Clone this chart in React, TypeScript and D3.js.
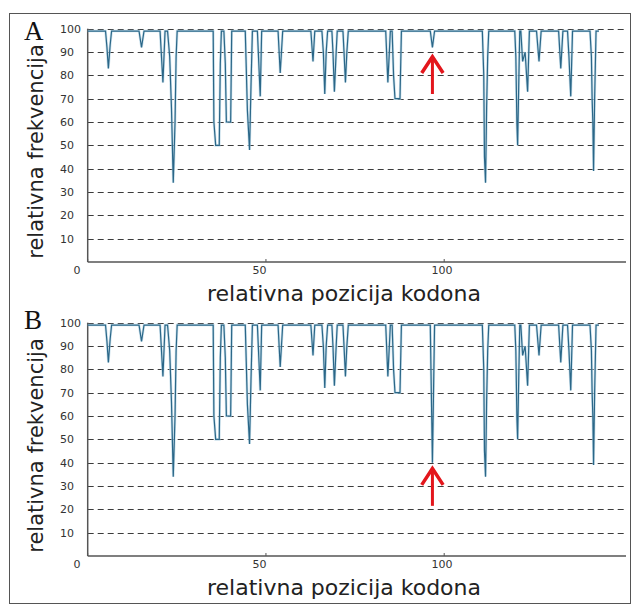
import React, { useEffect, useRef } from 'react';
import * as d3 from 'd3';

// relativna pozicija kodona (x) and relativna frekvencija (y)
const codonPos = [
  0,
  5.0, 5.4, 5.8, 6.3, 6.7,
  14.4, 15.1, 15.8,
  20.3, 21.1, 21.7,
  22.4, 23.0, 23.5, 24.0, 24.5, 24.8, 25.1,
  35.2, 35.4, 35.9, 36.9, 37.2, 37.5,
  38.2, 38.6, 38.9, 40.1, 40.4,
  44.2, 44.8, 45.4, 45.8, 46.2,
  47.6, 48.0, 48.4, 48.8,
  53.4, 54.0, 54.7,
  62.6, 63.2, 63.7,
  65.7, 66.1, 66.5, 66.9, 67.3,
  68.5, 68.8, 69.2, 69.7, 70.0,
  71.6, 71.9, 72.3, 72.7, 73.1,
  83.6, 84.2, 84.9,
  85.4, 85.8, 86.2, 87.6, 88.0,
  96.1, 96.7, 97.3,
  110.7, 111.1, 111.3, 111.6, 111.9, 112.2, 112.5,
  119.8, 120.1, 120.4, 120.6, 120.9, 121.2,
  121.5, 122.0, 122.7, 123.4, 123.9,
  125.9, 126.6, 127.2,
  132.1, 132.7, 133.3,
  134.6, 135.0, 135.5, 136.0,
  140.9, 141.3, 141.5, 141.7, 141.9, 142.2, 142.6,
  143.4,
];

const freqA = [
  99,
  99, 92, 83, 93, 99,
  99, 92, 99,
  99, 77, 99,
  99, 88, 66, 34, 60, 88, 99,
  99, 60, 50, 50, 85, 99,
  99, 85, 60, 60, 99,
  99, 65, 48, 75, 99,
  99, 85, 71, 99,
  99, 81, 99,
  99, 86, 99,
  99, 90, 72, 90, 99,
  99, 90, 73, 90, 99,
  99, 90, 77, 90, 99,
  99, 77, 99,
  99, 80, 70, 70, 99,
  99, 92, 99,
  99, 80, 45, 34, 66, 88, 99,
  99, 88, 59, 50, 75, 99,
  99, 86, 90, 73, 99,
  99, 86, 99,
  99, 83, 99,
  99, 88, 71, 99,
  99, 88, 70, 60, 39, 70, 99,
  99,
];

const freqB = [
  99,
  99, 92, 83, 93, 99,
  99, 92, 99,
  99, 77, 99,
  99, 88, 66, 34, 60, 88, 99,
  99, 60, 50, 50, 85, 99,
  99, 85, 60, 60, 99,
  99, 65, 48, 75, 99,
  99, 85, 71, 99,
  99, 81, 99,
  99, 86, 99,
  99, 90, 72, 90, 99,
  99, 90, 73, 90, 99,
  99, 90, 77, 90, 99,
  99, 77, 99,
  99, 80, 70, 70, 99,
  99, 40, 99,
  99, 80, 45, 34, 66, 88, 99,
  99, 88, 59, 50, 75, 99,
  99, 86, 90, 73, 99,
  99, 86, 99,
  99, 83, 99,
  99, 88, 71, 99,
  99, 88, 70, 60, 39, 70, 99,
  99,
];

const yTicks = [10, 20, 30, 40, 50, 60, 70, 80, 90, 100];
const xTicks = [0, 50, 100];

// arrow points at the codon that changed between A and B
const arrowPos = 96.7;
const arrowTips = [88, 37.5];

const App = () => {
  const ref = useRef<SVGSVGElement | null>(null);

  useEffect(() => {
    const svg = d3.select(ref.current);
    svg.selectAll('*').remove();

    const x = d3.scaleLinear().domain([0, 151]).range([87.7, 626]);
    // tick labels in the original sit a bit left of their ticks
    const xLabel = d3.scaleLinear().domain([0, 150]).range([77, 624.5]);

    const panels = [
      { letter: 'A', values: freqA, top: 0, tip: arrowTips[0] },
      { letter: 'B', values: freqB, top: 294, tip: arrowTips[1] },
    ];

    // outer frame
    svg
      .append('rect')
      .attr('x', 9.5)
      .attr('y', 13.5)
      .attr('width', 621)
      .attr('height', 590)
      .attr('fill', 'none')
      .attr('stroke', '#555')
      .attr('stroke-width', 1);

    panels.forEach(p => {
      const y = d3.scaleLinear().domain([0, 100]).range([262 + p.top, 28.7 + p.top]);
      const g = svg.append('g').style('font-family', '"DejaVu Sans", Verdana, sans-serif');

      // dashed grid
      g.selectAll('.grid')
        .data(yTicks)
        .enter()
        .append('line')
        .attr('x1', x(0))
        .attr('x2', x(151))
        .attr('y1', d => Math.round(y(d)) + 0.5)
        .attr('y2', d => Math.round(y(d)) + 0.5)
        .attr('stroke', '#3c3c3c')
        .attr('stroke-width', 1)
        .attr('stroke-dasharray', '6 4');

      // axes
      g.append('line')
        .attr('x1', x(0))
        .attr('x2', x(0))
        .attr('y1', y(100))
        .attr('y2', y(0))
        .attr('stroke', '#555')
        .attr('stroke-width', 1.5);
      g.append('line')
        .attr('x1', x(0))
        .attr('x2', x(151))
        .attr('y1', y(0))
        .attr('y2', y(0))
        .attr('stroke', '#555')
        .attr('stroke-width', 1.5);

      g.selectAll('.xtick')
        .data(xTicks)
        .enter()
        .append('line')
        .attr('x1', d => x(d))
        .attr('x2', d => x(d))
        .attr('y1', y(0))
        .attr('y2', y(0) - 3)
        .attr('stroke', '#555');

      // tick labels
      g.selectAll('.ylab')
        .data(yTicks)
        .enter()
        .append('text')
        .attr('x', 60)
        .attr('y', d => y(d))
        .attr('dy', '0.36em')
        .attr('font-size', 11)
        .attr('fill', '#333')
        .text(d => d);

      g.selectAll('.xlab')
        .data(xTicks)
        .enter()
        .append('text')
        .attr('x', d => xLabel(d))
        .attr('y', y(0) + 12)
        .attr('text-anchor', 'middle')
        .attr('font-size', 11)
        .attr('fill', '#333')
        .text(d => d);

      // axis titles
      g.append('text')
        .attr('x', 344)
        .attr('y', y(0) + 39)
        .attr('text-anchor', 'middle')
        .attr('font-size', 22)
        .attr('fill', '#222')
        .text('relativna pozicija kodona');

      g.append('text')
        .attr('transform', `translate(43,${151.5 + p.top}) rotate(-90)`)
        .attr('text-anchor', 'middle')
        .attr('font-size', 21)
        .attr('fill', '#222')
        .text('relativna frekvencija');

      // panel letter
      svg
        .append('text')
        .attr('x', 24)
        .attr('y', 40 + p.top - (p.letter === 'B' ? 5 : 0))
        .attr('font-family', '"Liberation Serif", "Times New Roman", serif')
        .attr('font-size', 27)
        .attr('fill', '#111')
        .text(p.letter);

      // data
      const pts = codonPos.map((c, i) => [c, p.values[i]] as [number, number]);
      const line = d3
        .line<[number, number]>()
        .x(d => x(d[0]))
        .y(d => y(d[1]));

      g.append('path')
        .datum(pts)
        .attr('d', line)
        .attr('fill', 'none')
        .attr('stroke', '#a9cde0')
        .attr('stroke-width', 2.6)
        .attr('stroke-opacity', 0.6);
      g.append('path')
        .datum(pts)
        .attr('d', line)
        .attr('fill', 'none')
        .attr('stroke', '#2b6788')
        .attr('stroke-width', 1.2);

      // red arrow
      const ax = x(arrowPos);
      const arrow = svg.append('g').attr('stroke', '#e3161c').attr('fill', 'none');
      arrow
        .append('line')
        .attr('x1', ax)
        .attr('x2', ax)
        .attr('y1', y(p.tip - 16))
        .attr('y2', y(p.tip) + 1)
        .attr('stroke-width', 3);
      arrow
        .append('path')
        .attr(
          'd',
          `M${x(arrowPos - 3)},${y(p.tip - 7)} L${ax},${y(p.tip)} L${x(arrowPos + 3)},${y(p.tip - 7)}`
        )
        .attr('stroke-width', 3.5)
        .attr('stroke-linejoin', 'miter');
    });
  }, []);

  return (
    <svg
      ref={ref}
      width={640}
      height={607}
      style={{ position: 'absolute', left: 0, top: 0, background: '#fff' }}
    />
  );
};

export default App;
